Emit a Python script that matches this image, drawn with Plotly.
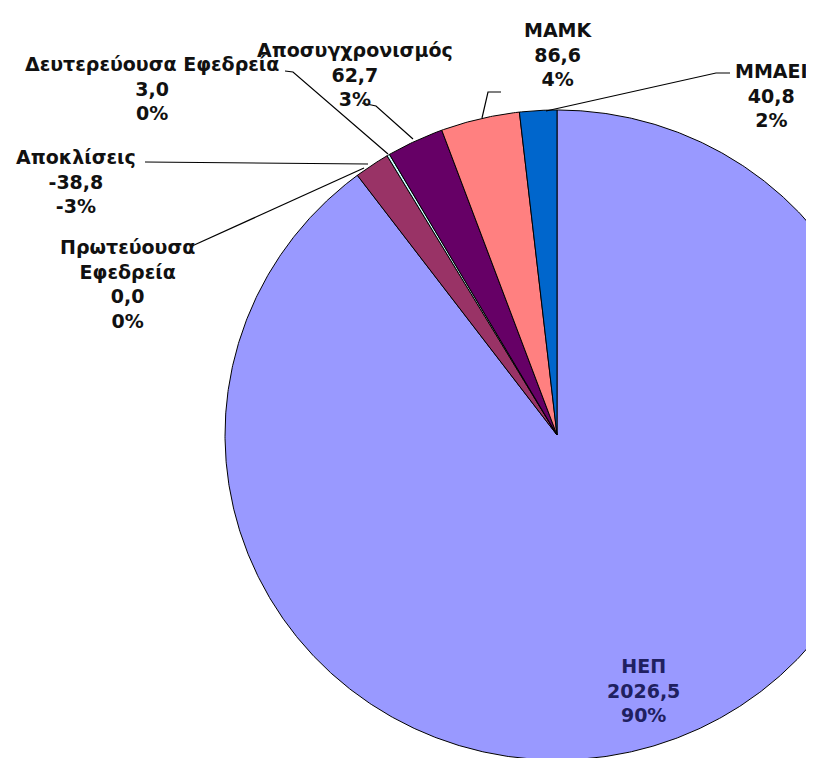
import math
import plotly.graph_objects as go

# ---- data ----
labels = ["ΗΕΠ", "Αποκλίσεις", "Πρωτεύουσα Εφεδρεία", "Δευτερεύουσα Εφεδρεία",
          "Αποσυγχρονισμός", "ΜΑΜΚ", "ΜΜΑΕΙ"]
values = [2026.5, -38.8, 0.0, 3.0, 62.7, 86.6, 40.8]
value_text = ["2026,5", "-38,8", "0,0", "3,0", "62,7", "86,6", "40,8"]
pct_text = ["90%", "-3%", "0%", "0%", "3%", "4%", "2%"]
colors = ["#9999FF", "#993366", "#FFFFCC", "#CCFFFF", "#660066", "#FF8080", "#0066CC"]

# ---- layout geometry (page pixel space) ----
W, H = 814, 758
OFF = 8  # default body margin of the html page
CX, CY, RX, RY = 557, 435, 332, 325

fig = go.Figure()

total = sum(abs(v) for v in values)
start = 0.0
for lab, v, col in zip(labels, values, colors):
    span = abs(v) / total * 360.0
    if span <= 0:
        continue
    n = max(4, int(span * 3))
    xs, ys = [CX], [CY]
    for i in range(n + 1):
        a = math.radians(start + span * i / n)
        xs.append(CX + RX * math.sin(a))
        ys.append(CY - RY * math.cos(a))
    xs.append(CX); ys.append(CY)
    fig.add_trace(go.Scatter(x=xs, y=ys, mode="lines", fill="toself",
                             fillcolor=col, line=dict(color="#000000", width=1),
                             hoverinfo="text", text=lab, showlegend=False))
    start += span

# label positions (x, y-center) and leader lines
label_pos = {
    "ΗΕΠ": (643, 690),
    "Αποκλίσεις": (76, 181),
    "Πρωτεύουσα Εφεδρεία": (127, 284),
    "Δευτερεύουσα Εφεδρεία": (152, 88),
    "Αποσυγχρονισμός": (355, 74),
    "ΜΑΜΚ": (558, 54),
    "ΜΜΑΕΙ": (771, 95),
}
leaders = [
    ([145, 368], [162, 164]),
    ([192, 364], [246, 168]),
    ([285, 293, 388], [71, 72, 154]),
    ([362, 376, 413], [103, 106, 139]),
    ([501, 488, 482], [92, 92, 118]),
    ([730, 716, 546], [73, 73, 111]),
]
for lx, ly in leaders:
    fig.add_trace(go.Scatter(x=lx, y=ly, mode="lines",
                             line=dict(color="#000000", width=1.2),
                             hoverinfo="skip", showlegend=False))

for lab, vt, pt in zip(labels, value_text, pct_text):
    x, y = label_pos[lab]
    name = "Πρωτεύουσα<br>Εφεδρεία" if lab == "Πρωτεύουσα Εφεδρεία" else lab
    color = "#202060" if lab == "ΗΕΠ" else "#111111"
    fig.add_annotation(x=x, y=y, xref="x", yref="y", showarrow=False,
                       text=f"{name}<br>{vt}<br>{pt}",
                       font=dict(family="DejaVu Sans", size=19,
                                 color=color, weight="bold"),
                       align="center", xanchor="center", yanchor="middle")

fig.update_layout(
    width=W, height=H, margin=dict(l=0, r=0, t=0, b=0),
    paper_bgcolor="white", plot_bgcolor="white",
    xaxis=dict(range=[OFF, W + OFF], visible=False, fixedrange=True),
    yaxis=dict(range=[H + OFF, OFF], visible=False, fixedrange=True),
)
fig.write_html("out.html")
